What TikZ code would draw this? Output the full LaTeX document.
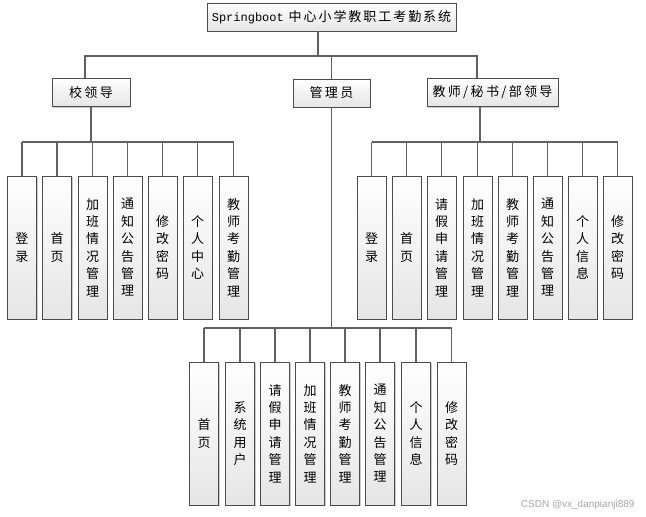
\documentclass[tikz,border=0pt]{standalone}
\usepackage{fontspec}
\setmainfont{Liberation Sans}
\newfontfamily\cjkh[LetterSpace=18]{Noto Sans CJK SC}
\newfontfamily\cjkt[LetterSpace=15]{Noto Sans CJK SC}
\newfontfamily\cjkv{Noto Sans CJK SC}
\newfontfamily\monof{Liberation Mono}
\usetikzlibrary{shadows}
\tikzset{
  boxbase/.style={draw=black!70, line width=0.9pt, top color=white, bottom color=black!10,
    inner sep=0pt, drop shadow={shadow xshift=1.2pt, shadow yshift=-1.2pt, fill=black!35, opacity=0.6}},
  hbox/.style={boxbase, minimum height=28pt, font=\cjkh\fontsize{13}{16}\selectfont},
  vbox/.style={boxbase, minimum width=29pt, minimum height=143pt, align=center,
    font=\cjkv\fontsize{13}{17.4}\selectfont},
  conn/.style={draw=black!62, line width=1.1pt},
  mark9/.style={font=\fontsize{10}{12}\selectfont, text=black!35}
}
\begin{document}
\begin{tikzpicture}[x=1pt,y=-1pt]
\useasboundingbox (0,0) rectangle (646,517);
% title
\node[hbox, minimum width=249pt, font=\cjkt\fontsize{13}{16}\selectfont] (title) at (331.5,17) {{\monof\fontsize{12}{16}\selectfont Springboot} 中心小学教职工考勤系统};
% level 2
\node[hbox, minimum width=78pt] (L) at (91,92.5) {校领导};
\node[hbox, minimum width=77pt] (A) at (331.5,93) {管理员};
\node[hbox, minimum width=131pt] (T) at (492.5,92.5) {教师/秘书/部领导};
% bus coordinates
\coordinate (tj) at (318,56);
\coordinate (bL) at (85,56);
\coordinate (bR) at (477,56);
\coordinate (lb) at (91,142);
\coordinate (rb) at (480,142);
\coordinate (ab) at (332,328);
% connectors level 1 -> 2
\draw[conn] (title.south -| tj) -- (tj);
\draw[conn] (bL |- L.north) -- (bL) -- (bR) -- (bR |- T.north);
\draw[conn] (A.north) -- (A.north |- tj);
% left group
\foreach \n/\x/\t in {l1/22/{登\\录}, l2/57/{首\\页}, l3/92.5/{加\\班\\情\\况\\管\\理}, l4/127.5/{通\\知\\公\\告\\管\\理}, l5/162.5/{修\\改\\密\\码}, l6/197.5/{个\\人\\中\\心}, l7/233.5/{教\\师\\考\\勤\\管\\理}}{
  \node[vbox] (\n) at (\x,247.5) {\t};
  \draw[conn] (\n.north) -- (\n.north |- lb);
}
\draw[conn] (L.south) -- (lb);
\draw[conn] (l1.north |- lb) -- (l7.north |- lb);
% right group
\foreach \n/\x/\t in {r1/371.5/{登\\录}, r2/406.5/{首\\页}, r3/441.5/{请\\假\\申\\请\\管\\理}, r4/477.5/{加\\班\\情\\况\\管\\理}, r5/512.5/{教\\师\\考\\勤\\管\\理}, r6/547.5/{通\\知\\公\\告\\管\\理}, r7/582.5/{个\\人\\信\\息}, r8/617.5/{修\\改\\密\\码}}{
  \node[vbox] (\n) at (\x,247.5) {\t};
  \draw[conn] (\n.north) -- (\n.north |- rb);
}
\draw[conn] (rb |- T.south) -- (rb);
\draw[conn] (r1.north |- rb) -- (r8.north |- rb);
% bottom group
\foreach \n/\x/\t in {b1/204/{首\\页}, b2/240/{系\\统\\用\\户}, b3/275/{请\\假\\申\\请\\管\\理}, b4/310/{加\\班\\情\\况\\管\\理}, b5/345/{教\\师\\考\\勤\\管\\理}, b6/380/{通\\知\\公\\告\\管\\理}, b7/416/{个\\人\\信\\息}, b8/451.5/{修\\改\\密\\码}}{
  \node[vbox] (\n) at (\x,433.5) {\t};
  \draw[conn] (\n.north) -- (\n.north |- ab);
}
\draw[conn] (A.south) -- (A.south |- ab);
\draw[conn] (b1.north |- ab) -- (b8.north |- ab);
% watermark
\node[mark9, anchor=east] (wm) at (638,505) {CSDN @vx\_danpianji889};
\end{tikzpicture}
\end{document}
